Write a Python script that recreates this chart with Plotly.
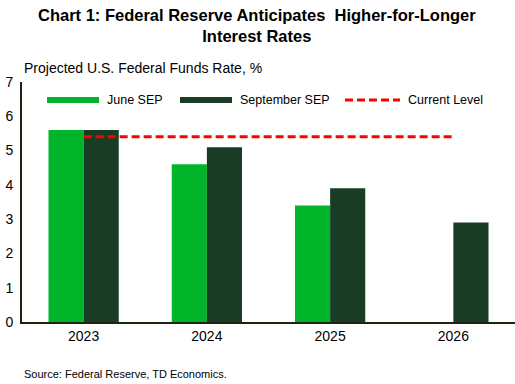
import plotly.graph_objects as go

years = ["2023", "2024", "2025", "2026"]
june_sep = [5.6, 4.6, 3.4, None]
september_sep = [5.6, 5.1, 3.9, 2.9]
current_level = [5.4, 5.4, 5.4, 5.4]

GREEN = "#00B52A"
DARK = "#183D24"
RED = "#FF0000"
FONT = "Liberation Sans, Arial, sans-serif"

L, R, T, B, W, H = 22, 0, 82, 62, 515, 384
PW, PH = W - L - R, H - T - B


def px(x):
    return (x - L) / PW


def py(y):
    return (H - B - y) / PH


fig = go.Figure()
fig.add_trace(go.Bar(x=years, y=june_sep, name="June SEP", marker_color=GREEN,
                     marker_line_width=0, showlegend=False))
fig.add_trace(go.Bar(x=years, y=september_sep, name="September SEP", marker_color=DARK,
                     marker_line_width=0, showlegend=False))
fig.add_trace(go.Scatter(x=years, y=current_level, mode="lines", name="Current Level",
                         line=dict(color=RED, width=3, dash="8px,4px"), showlegend=False))

# legend drawn as line swatches + labels
legend_items = [
    ("June SEP", GREEN, 6, "solid", 47, 99),
    ("September SEP", DARK, 6, "solid", 180, 232),
    ("Current Level", RED, 3, "8px,4px", 345, 400),
]
shapes = []
annotations = []
for name, color, width, dash, x0, x1 in legend_items:
    shapes.append(dict(type="line", xref="paper", yref="paper", x0=px(x0), x1=px(x1),
                       y0=py(100), y1=py(100), line=dict(color=color, width=width, dash=dash)))
    annotations.append(dict(text=name, xref="paper", yref="paper", x=px(x1 + 6), y=py(100),
                            xanchor="left", yanchor="middle", showarrow=False,
                            font=dict(family=FONT, size=12.5, color="#000000")))

annotations += [
    dict(text="<b>Chart 1: Federal Reserve Anticipates  Higher-for-Longer<br>Interest Rates</b>",
         xref="paper", yref="paper", x=px(257), y=py(4),
         xanchor="center", yanchor="top", showarrow=False, align="center",
         font=dict(family=FONT, size=16.5, color="#000000")),
    dict(text="Projected U.S. Federal Funds Rate, %", xref="paper", yref="paper",
         x=0, y=py(68), xanchor="left", yanchor="middle", showarrow=False,
         font=dict(family=FONT, size=14, color="#000000")),
    dict(text="Source: Federal Reserve, TD Economics.", xref="paper", yref="paper",
         x=0, y=py(374), xanchor="left", yanchor="middle", showarrow=False,
         font=dict(family=FONT, size=11, color="#000000")),
]

fig.update_layout(
    width=W, height=H,
    margin=dict(l=L, r=R, t=T, b=B),
    paper_bgcolor="white", plot_bgcolor="white",
    font=dict(family=FONT, size=14, color="#000000"),
    barmode="group", bargap=0.43, bargroupgap=0,
    showlegend=False,
    xaxis=dict(type="category", showgrid=False, showline=True, linecolor="#1F2412",
               linewidth=2, ticks="", tickfont=dict(size=14)),
    yaxis=dict(range=[0, 7], dtick=1, showgrid=False, showline=True, linecolor="#1F2412",
               linewidth=2, ticks="", tickfont=dict(size=14), zeroline=False,
               ticklabelstandoff=4),
    shapes=shapes,
    annotations=annotations,
)

fig.write_html("out.html", config={"displayModeBar": False},
               post_script="document.body.style.margin='0';document.body.style.overflow='hidden';")
